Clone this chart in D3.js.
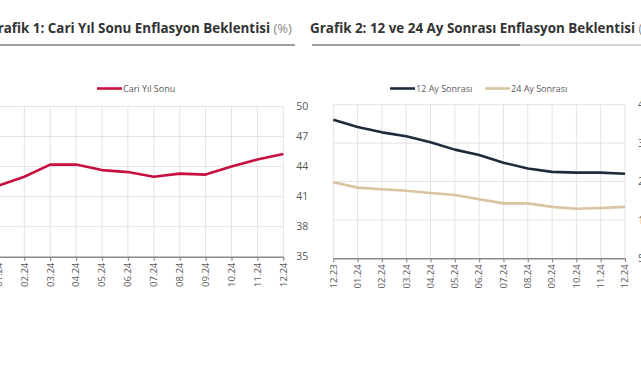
<!DOCTYPE html>
<html><head><meta charset="utf-8">
<script src="https://cdn.jsdelivr.net/npm/d3@7"></script>
<style>
body{margin:0;background:#fff;}
svg{display:block;font-family:"Open Sans",sans-serif;}
</style></head><body>
<svg id="c" width="641" height="380"></svg>
<script>
const months = ["12.23","01.24","02.24","03.24","04.24","05.24","06.24","07.24","08.24","09.24","10.24","11.24","12.24"];
const cariYilSonu = [41.3,42.1,42.98,44.2,44.2,43.65,43.45,42.98,43.3,43.2,44.0,44.7,45.25];
const ay12 = [41.1,39.2,37.8,36.8,35.2,33.3,31.9,29.9,28.4,27.5,27.3,27.3,27.0];
const ay24 = [24.8,23.4,23.0,22.6,22.0,21.5,20.4,19.3,19.3,18.4,17.9,18.1,18.4];
const ticks1 = [35,38,41,44,47,50];
const ticks2 = [5,15,25,35,45];

const svg = d3.select("#c");
const gridC = "#e3e3e3", axisC = "#8a8a8a", txtC = "#595959";

function chart(opt){
  const g = svg.append("g");
  const x = d3.scalePoint().domain(months).range([opt.x0, opt.x1]);
  const y = d3.scaleLinear().domain(opt.domain).range([opt.y1, opt.y0]);
  // title
  const t = g.append("text").attr("y", 32.5)
    .attr("font-size", opt.tSize).attr("font-weight", 700).attr("fill", "#333");
  const main = t.append("tspan").text(opt.title);
  if(opt.titleLen) main.attr("textLength", opt.titleLen).attr("lengthAdjust", "spacingAndGlyphs");
  if(opt.unit) t.append("tspan").attr("font-weight", 400).attr("fill", "#888").attr("font-size", 13).text(" " + opt.unit);
  if(opt.tEnd !== undefined){
    const w = main.node().getComputedTextLength();
    t.attr("x", opt.tEnd - w);
  } else t.attr("x", opt.tx);
  if(opt.ux1 < opt.ux2) g.append("line").attr("x1", opt.ux1).attr("x2", opt.ux2).attr("y1", 45).attr("y2", 45)
    .attr("stroke", "#a6a6a6").attr("stroke-width", 1.2);
  g.append("line").attr("x1", opt.ux0).attr("x2", opt.ux1).attr("y1", 45).attr("y2", 45)
    .attr("stroke", "#3d3d3d").attr("stroke-width", 1.2);
  // grid
  g.append("g").selectAll("line").data(months.slice(0, -1)).join("line")
    .attr("x1", d => x(d)).attr("x2", d => x(d)).attr("y1", opt.y0).attr("y2", opt.y1)
    .attr("stroke", gridC);
  g.append("g").selectAll("line").data(opt.ticks.slice(1)).join("line")
    .attr("x1", opt.x0).attr("x2", opt.x1).attr("y1", d => y(d)).attr("y2", d => y(d))
    .attr("stroke", gridC);
  g.append("line").attr("x1", opt.x1).attr("x2", opt.x1).attr("y1", opt.y0).attr("y2", opt.y1).attr("stroke", gridC);
  // y axis labels (right)
  g.append("g").selectAll("text").data(opt.ticks).join("text")
    .attr("x", opt.x1 + 13).attr("y", d => y(d)).attr("dy", "0.35em")
    .attr("font-size", 10.5).attr("fill", txtC).text(d => d);
  // x axis
  const ax = g.append("g").attr("transform", `translate(0,${opt.y1})`)
    .call(d3.axisBottom(x).tickSize(4).tickSizeOuter(0).tickFormat(() => ""));
  ax.select(".domain").attr("stroke", axisC).attr("stroke-width", 1.5);
  ax.selectAll(".tick line").attr("stroke", axisC).attr("stroke-width", 1.2);
  g.append("g").selectAll("text").data(months).join("text")
    .attr("transform", d => `translate(${x(d)},${opt.y1 + 6}) rotate(-90)`)
    .attr("text-anchor", "end").attr("dy", "0.35em")
    .attr("font-size", 9.5).attr("fill", txtC).text(d => d);
  // lines
  const line = d3.line().x((d, i) => x(months[i])).y(d => y(d));
  opt.series.forEach(s => {
    g.append("path").datum(s.values).attr("d", line).attr("fill", "none")
      .attr("stroke", s.color).attr("stroke-width", 2.6).attr("stroke-linejoin", "round");
  });
  // legend
  opt.legend.forEach(l => {
    g.append("line").attr("x1", l.x).attr("x2", l.x + 25).attr("y1", 88.5).attr("y2", 88.5)
      .attr("stroke", l.color).attr("stroke-width", 2.6);
    g.append("text").attr("x", l.x + 26).attr("y", 88.5).attr("dy", "0.35em")
      .attr("font-size", 9).attr("fill", txtC).text(l.label);
  });
}

chart({
  title: "Grafik 1: Cari Yıl Sonu Enflasyon Beklentisi", unit: "(%)", tEnd: 270, tSize: 13.4,
  ux0: -10, ux1: 295, ux2: 295,
  x0: -27.5, x1: 283.3, y0: 106.5, y1: 256.7, domain: [35, 50], ticks: ticks1,
  series: [{values: cariYilSonu, color: "#c8103f"}],
  legend: [{x: 97, color: "#c8103f", label: "Cari Yıl Sonu"}]
});
chart({
  title: "Grafik 2: 12 ve 24 Ay Sonrası Enflasyon Beklentisi", unit: "(%)", tx: 310, titleLen: 325, tSize: 14,
  ux0: 312, ux1: 520, ux2: 645,
  x0: 333.3, x1: 625, y0: 104.7, y1: 258.3, domain: [5, 45], ticks: ticks2,
  series: [{values: ay24, color: "#d8c4a0"}, {values: ay12, color: "#1f2b3d"}],
  legend: [{x: 390, color: "#1f2b3d", label: "12 Ay Sonrası"}, {x: 485, color: "#d8c4a0", label: "24 Ay Sonrası"}]
});
</script>
</body></html>
